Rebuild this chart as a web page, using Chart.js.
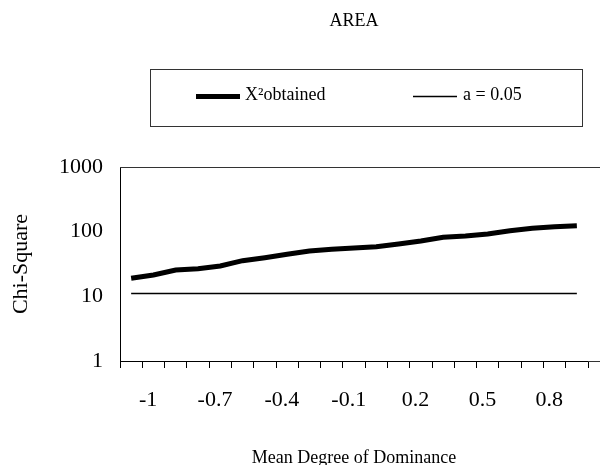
<!DOCTYPE html>
<html>
<head>
<meta charset="utf-8">
<title>AREA</title>
<script src="https://cdn.jsdelivr.net/npm/chart.js@4.4.1/dist/chart.umd.min.js"></script>
<style>
  html, body { margin: 0; padding: 0; background: #fff; }
  #wrap { width: 602px; height: 465px; }
</style>
</head>
<body>
<div id="wrap"><canvas id="chart-area"></canvas></div>
<script>
/**
 * Chi-Square vs mean degree of dominance (AREA), log scale.
 */

// Categories on the x axis (mean degree of dominance)
const categories = [
  "-1", "-0.9", "-0.8", "-0.7", "-0.6", "-0.5", "-0.4", "-0.3", "-0.2", "-0.1",
  "0", "0.1", "0.2", "0.3", "0.4", "0.5", "0.6", "0.7", "0.8", "0.9", "1",
];

// X² obtained
const chiObtained = [
  19.0, 21.4, 25.5, 26.8, 29.4, 35.6, 39.6, 44.7, 50.2, 53.4,
  55.9, 58.6, 64.4, 71.7, 81.8, 85.7, 92, 103.5, 112.7, 119, 123.6,
];

// critical value, a = 0.05
const chiCritical = [
  11.07, 11.07, 11.07, 11.07, 11.07, 11.07, 11.07, 11.07, 11.07, 11.07,
  11.07, 11.07, 11.07, 11.07, 11.07, 11.07, 11.07, 11.07, 11.07, 11.07, 11.07,
];

// y tick labels
const yTicks = [1, 10, 100, 1000];

const serif = "'Liberation Serif', 'Times New Roman', serif";

/**
 * Plugin: top border of the plot, axis extension and the framed legend.
 */
const framePlugin = {
  id: "frame",
  afterDraw(chart) {
    const { ctx, chartArea } = chart;
    ctx.save();
    ctx.lineWidth = 1;
    ctx.strokeStyle = "#333";
    ctx.beginPath();
    ctx.moveTo(chartArea.left, chartArea.top + 0.5);
    ctx.lineTo(600, chartArea.top + 0.5);
    ctx.moveTo(chartArea.right, Math.round(chartArea.bottom) + 0.5);
    ctx.lineTo(600, Math.round(chartArea.bottom) + 0.5);
    ctx.stroke();

    // legend box
    ctx.strokeRect(150.5, 69.5, 432, 57);

    const items = [
      { x: 196, textX: 245, ds: chart.data.datasets[0] },
      { x: 413, textX: 463, ds: chart.data.datasets[1] },
    ];
    ctx.font = "18px " + serif;
    ctx.textBaseline = "alphabetic";
    ctx.fillStyle = "#000";
    items.forEach((it) => {
      ctx.beginPath();
      ctx.lineWidth = it.ds.borderWidth;
      ctx.strokeStyle = it.ds.borderColor;
      ctx.moveTo(it.x, 96.5);
      ctx.lineTo(it.x + 44, 96.5);
      ctx.stroke();
      ctx.fillText(it.ds.label, it.textX, 100);
    });
    ctx.restore();
  },
};

function renderChart(canvasId) {
  const ctx = document.getElementById(canvasId);
  if (!ctx) return;

  new Chart(ctx, {
    type: "line",
    data: {
      labels: categories,
      datasets: [
        {
          label: "X²obtained",
          data: chiObtained,
          borderColor: "#000",
          borderWidth: 5,
          pointRadius: 0,
          tension: 0,
        },
        {
          label: "a = 0.05",
          data: chiCritical,
          borderColor: "#000",
          borderWidth: 1.5,
          pointRadius: 0,
          tension: 0,
        },
      ],
    },
    options: {
      responsive: true,
      maintainAspectRatio: false,
      animation: false,
      layout: { padding: { left: 0, right: 14, top: 0, bottom: 0 } },
      plugins: {
        legend: { display: false },
        tooltip: { enabled: false },
        title: {
          display: true,
          text: "AREA",
          fullSize: false,
          color: "#000",
          font: { family: serif, size: 18, weight: "normal" },
          padding: { top: 10, bottom: 135.4 },
        },
      },
      scales: {
        x: {
          type: "category",
          offset: true,
          afterFit: (scale) => { scale.height = 104; },
          grid: {
            offset: true,
            drawOnChartArea: false,
            drawTicks: true,
            tickLength: 7,
            color: "#000",
          },
          border: { color: "#000", width: 1 },
          ticks: {
            autoSkip: false,
            maxRotation: 0,
            padding: 19,
            labelOffset: 17,
            color: "#000",
            font: { family: serif, size: 22 },
            callback: function (value, index) {
              return index % 3 === 0 ? this.getLabelForValue(value) : "";
            },
          },
          title: {
            display: true,
            text: "Mean Degree of Dominance",
            color: "#000",
            font: { family: serif, size: 18, lineHeight: 0.72 },
            padding: { top: 0, bottom: 0 },
          },
        },
        y: {
          type: "logarithmic",
          min: 1,
          max: 1000,
          afterFit: (scale) => { scale.width = 120; },
          afterBuildTicks: (scale) => {
            scale.ticks = yTicks.map((v) => ({ value: v }));
          },
          grid: { drawOnChartArea: false, drawTicks: false },
          border: { color: "#000", width: 1 },
          ticks: {
            padding: 17,
            color: "#000",
            font: { family: serif, size: 22 },
            callback: (value) => String(value),
          },
          title: {
            display: true,
            text: "Chi-Square",
            color: "#000",
            font: { family: serif, size: 22 },
            padding: { top: 8, bottom: 0 },
          },
        },
      },
    },
    plugins: [framePlugin],
  });
}

document.addEventListener("DOMContentLoaded", () => {
  renderChart("chart-area");
});
</script>
</body>
</html>
